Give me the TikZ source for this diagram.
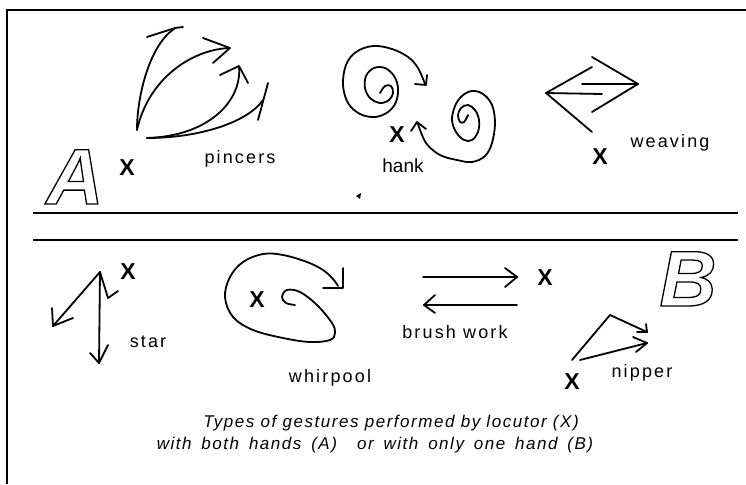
\documentclass[tikz,border=0pt]{standalone}
\usepackage{fontspec}
\setmainfont{Liberation Sans}
\newfontfamily\labfont[LetterSpace=12]{Liberation Sans}
\newfontfamily\capfont[LetterSpace=9]{Liberation Sans}
\newcommand{\outlinetext}[1]{\special{pdf:literal direct 1 Tr 1.3 w}#1\special{pdf:literal direct 0 Tr}}
\begin{document}
\begin{tikzpicture}[x=1pt,y=-1pt,
  gest/.style={line width=1.8pt, line cap=round, line join=round},
  rule/.style={line width=1.6pt},
  lab/.style={font=\labfont\fontsize{18}{20}\selectfont, inner sep=0pt, anchor=base},
  xmark/.style={font=\bfseries\fontsize{23}{24}\selectfont, inner sep=0pt},
  big/.style={font=\bfseries\itshape\fontsize{79}{80}\selectfont, inner sep=0pt, anchor=base},
  caption/.style={font=\capfont\itshape\fontsize{17}{20}\selectfont, inner sep=0pt, anchor=base}]
\useasboundingbox (0,0) rectangle (746,484);
% frame
\draw[line width=2.2pt] (7,484) -- (7,10) -- (746,10);
\draw[rule] (33,213) -- (738,213);
\draw[rule] (33,240) -- (738,240);
% big letters
\node[big] (bigA) at (75,204) {\outlinetext{A}};
\node[big] (bigB) at (688,306) {\outlinetext{B}};
% ---- pincers
\draw[gest] (137,130) .. controls (137,95) and (150,45) .. (174,29);
\draw[gest] (147,37) -- (175,28) -- (183,27);
\draw[gest] (137,130) .. controls (148,80) and (190,50) .. (229,48);
\draw[gest] (203,38) -- (230,48) -- (213,63);
\draw[gest] (147,138) .. controls (210,136) and (242,100) .. (239,67);
\draw[gest] (220,75) -- (239,66) -- (248,83);
\draw[gest] (147,138) .. controls (200,138) and (248,122) .. (263,100);
\draw[gest] (268,83) -- (258,120);
\node[xmark] (xA) at (127,168) {X};
\node[lab] (pincers) at (240,163) {pincers};
% ---- hank
\draw[gest] plot[smooth, tension=0.6] coordinates {(380,93) (385,86) (391,86) (393,93) (389,100) (380,103) (370,98) (365,88) (366,76) (374,68) (385,68) (394,76) (398,88) (396,102) (388,112) (375,117) (360,114) (348,103) (343,85) (346,65) (356,52) (373,46) (392,49) (408,57) (418,68) (425,84)};
\draw[gest] (415,84) -- (426,85) -- (427,75);
\draw[gest] plot[smooth, tension=0.6] coordinates {(468,115) (464,122) (460,122) (458,115) (461,108) (468,105) (475,110) (479,120) (478,132) (472,140) (464,140) (456,132) (452,120) (455,106) (462,96) (472,91) (483,94) (492,105) (495,123) (492,143) (485,156) (472,162) (457,160) (440,155) (426,143) (418,124)};
\draw[gest] (411,131) -- (417,122) -- (426,129);
\node[xmark] (xH) at (397,135) {X};
\node[lab, font=\fontsize{19}{20}\selectfont] (hank) at (403,172) {hank};
\fill (356,196) -- (361,193) -- (360,199) -- cycle;
% ---- weaving
\draw[gest] (592,67) -- (546,93) -- (592,132);
\draw[gest] (592,57) -- (638,84) -- (592,112);
\draw[gest] (582,84) -- (638,84);
\draw[gest] (546,93) -- (602,94);
\node[xmark] (xW) at (600,157) {X};
\node[lab] (weaving) at (670,147) {weaving};
% ---- star
\coordinate (sp) at (100,272);
\draw[gest] (sp) -- (53,326);
\draw[gest] (52,308) -- (53,326) -- (73,318);
\draw[gest] (sp) -- (99,363);
\draw[gest] (90,353) -- (99,363) -- (108,345);
\draw[gest] (sp) -- (108,298) -- (118,291);
\node[xmark] (xS) at (128,272) {X};
\node[lab] (star) at (148,347) {star};
% ---- whirpool
\draw[gest] plot[smooth, tension=0.6] coordinates {(295,305) (286,303) (282,297) (287,290) (300,292) (317,305) (332,323) (335,333) (330,340) (310,342) (283,338) (253,330) (233,317) (225,297) (230,277) (243,262) (263,254) (283,255) (307,262) (323,270) (333,279) (338,286)};
\draw[gest] (323,288) -- (343,288) -- (343,268);
\node[xmark] (xP) at (257,300) {X};
\node[lab] (whirpool) at (330,382) {whirpool};
% ---- brush work
\draw[gest] (423,277) -- (517,277);
\draw[gest] (505,268) -- (517,277) -- (505,287);
\draw[gest] (517,305) -- (424,305);
\draw[gest] (435,295) -- (424,305) -- (435,313);
\node[xmark] (xB) at (545,278) {X};
\node[lab] (brush) at (455,338) {brush\hspace{0.4em}work};
% ---- nipper
\draw[gest] (572,360) -- (610,315) -- (647,332);
\draw[gest] (646,324) -- (647,332) -- (637,332);
\draw[gest] (580,360) -- (647,343);
\draw[gest] (633,337) -- (647,343) -- (636,352);
\node[xmark] (xN) at (572,382) {X};
\node[lab] (nipper) at (642,377) {nipper};
% ---- caption
\node[caption] (cap1) at (391,427) {Types of gestures performed by locutor (X)};
\node[caption] (cap2) at (375,449) {\spaceskip=0.58em\relax with both hands (A)\hspace{0.6em} or with only one hand (B)};
\end{tikzpicture}
\end{document}
